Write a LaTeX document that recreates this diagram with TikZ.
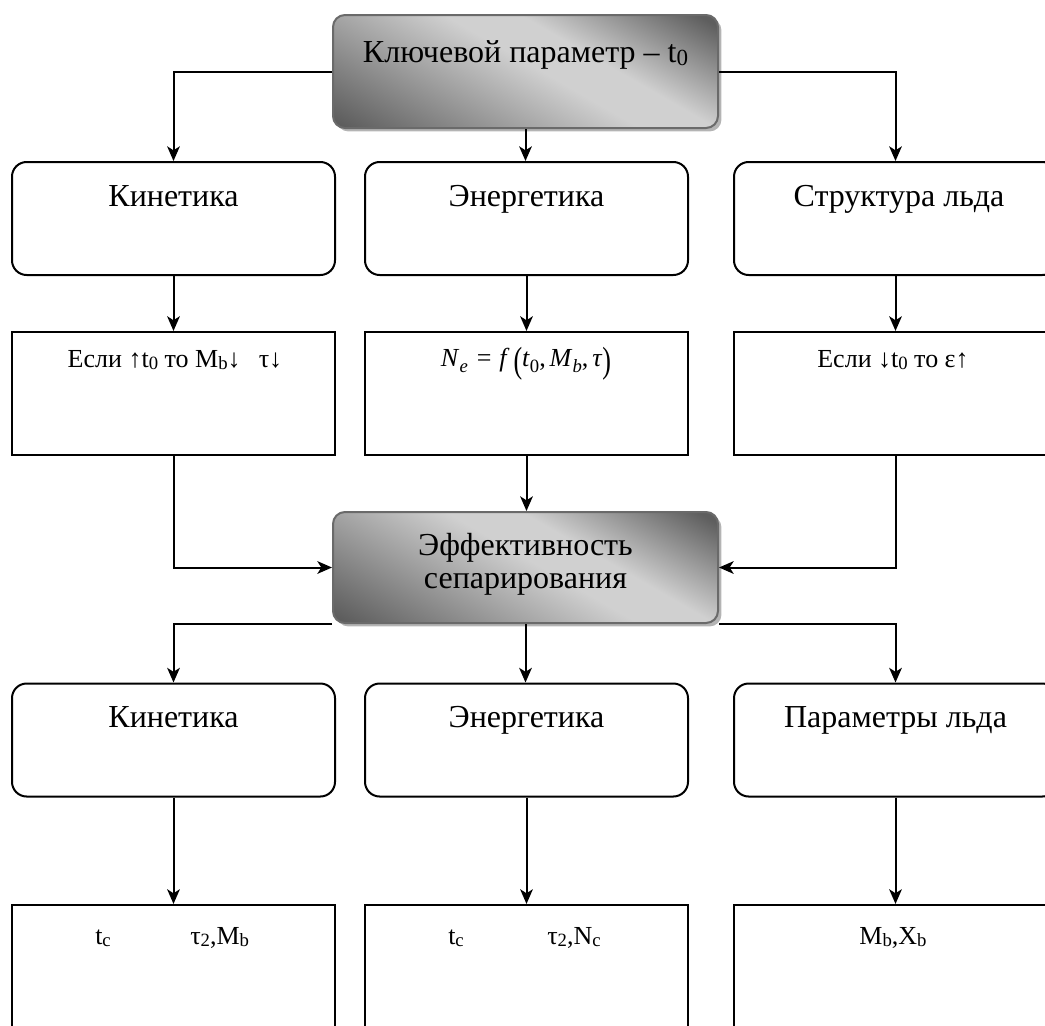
\documentclass[tikz,border=0pt]{standalone}
\usepackage{fontspec}
\setmainfont{Liberation Serif}
\usepackage{graphicx}
\usetikzlibrary{arrows.meta,shadows}
\definecolor{gdark}{HTML}{525252}
\definecolor{gdarkb}{HTML}{5E5E5E}
\definecolor{glight}{HTML}{D0D0D0}
\definecolor{gborder}{HTML}{6A6A6A}
\definecolor{gshadow}{HTML}{B4B4B4}
\pgfdeclareverticalshading{gband}{100bp}{color(0bp)=(gdark); color(14bp)=(gdark); color(52bp)=(glight); color(61bp)=(glight); color(82bp)=(gdarkb); color(100bp)=(gdarkb)}
\newcommand\lowsub[1]{\raisebox{-0.22ex}{\scalebox{0.72}{#1}}}
\newcommand\mathsub[1]{\raisebox{-0.55ex}{\scalebox{0.72}{#1}}}
\newcommand\bigparen[1]{\raisebox{-0.24em}{\scalebox{1}[1.4]{#1}}}
\begin{document}
\begin{tikzpicture}[x=0.75pt,y=-0.75pt,
  graybox/.style={draw=gborder, line width=1.5pt, rounded corners=9pt,
    shading=gband, shading angle=-30,
    minimum width=288.75pt, minimum height=84.75pt, inner sep=0pt,
    drop shadow={shadow xshift=2.6pt, shadow yshift=-2.6pt, fill=gshadow, opacity=1}},
  roundbox/.style={draw=black, line width=1.5pt, rounded corners=11pt, fill=white,
    minimum width=242.25pt, minimum height=84.75pt, inner sep=0pt},
  plainbox/.style={draw=black, line width=1.6pt, fill=white,
    minimum width=242.25pt, inner sep=0pt},
  bigtxt/.style={font=\fontsize{24}{28}\selectfont, inner sep=0pt, anchor=base},
  smalltxt/.style={font=\fontsize{19.5}{22}\selectfont, inner sep=0pt, anchor=base},
  conn/.style={line width=1.5pt, -{Stealth[length=11pt,width=9.5pt,inset=3pt]}},
  line/.style={line width=1.5pt}
]
\useasboundingbox (0,0) rectangle (1045,1025);

% key parameter box
\node[graybox] (g1) at (525.5,71.5) {};
\node[bigtxt] (g1t) at (525.5,62) {Ключевой параметр – t\lowsub{0}};

% row 1
\node[roundbox] (k1) at (173.5,218.5) {};
\node[roundbox] (e1) at (526.5,218.5) {};
\node[roundbox] (s1) at (895.5,218.5) {};
\node[bigtxt] (k1t) at (173.5,206) {Кинетика};
\node[bigtxt] (e1t) at (526.5,206) {Энергетика};
\node[bigtxt] (s1t) at (899,206) {Структура льда};

% row 2
\node[plainbox, minimum height=92.25pt] (k2) at (173.5,393.5) {};
\node[plainbox, minimum height=92.25pt] (e2) at (526.5,393.5) {};
\node[plainbox, minimum height=92.25pt] (s2) at (895.5,393.5) {};
\node[smalltxt] (k2t) at (175,367) {Если ↑t\lowsub{0} то M\lowsub{b}↓\hspace{0.7em}τ↓};
\node[smalltxt] (e2t) at (526,366) {\textit{N}\mathsub{\textit{e}}\hspace{0.35em}=\hspace{0.3em}\textit{f}\hspace{0.15em}\bigparen{(}\textit{t}\mathsub{0},\hspace{0.15em}\textit{M}\mathsub{\textit{b}},\hspace{0.15em}\textit{τ}\bigparen{)}};
\node[smalltxt] (s2t) at (893,367) {Если ↓t\lowsub{0} то ε↑};

% efficiency box
\node[graybox, minimum height=83.25pt] (g2) at (525.5,567.5) {};
\node[bigtxt] (g2a) at (525.5,555) {Эффективность};
\node[bigtxt] (g2b) at (525.5,588) {сепарирования};

% row 3
\node[roundbox] (k3) at (173.5,740) {};
\node[roundbox] (e3) at (526.5,740) {};
\node[roundbox] (p3) at (895.5,740) {};
\node[bigtxt] (k3t) at (173.5,727) {Кинетика};
\node[bigtxt] (e3t) at (526.5,727) {Энергетика};
\node[bigtxt] (p3t) at (895.5,727) {Параметры льда};

% row 4
\node[plainbox, minimum height=120pt] (k4) at (173.5,985) {};
\node[plainbox, minimum height=120pt] (e4) at (526.5,985) {};
\node[plainbox, minimum height=120pt] (p4) at (895.5,985) {};
\node[smalltxt, anchor=base west] (k4a) at (95,944) {t\lowsub{c}};
\node[smalltxt, anchor=base west] (k4b) at (190,944) {τ\lowsub{2},M\lowsub{b}};
\node[smalltxt, anchor=base west] (e4a) at (448,944) {t\lowsub{c}};
\node[smalltxt, anchor=base west] (e4b) at (547,944) {τ\lowsub{2},N\lowsub{c}};
\node[smalltxt] (p4t) at (893,944) {M\lowsub{b},X\lowsub{b}};

% connectors
\draw[conn] (g1.west) -| (k1.north);
\draw[conn] (g1.south) -- (e1.north -| g1.south);
\draw[conn] (g1.east) -| (s1.north);
\draw[conn] (k1.south) -- (k2.north);
\draw[conn] (e1.south) -- (e2.north);
\draw[conn] (s1.south) -- (s2.north);
\draw[conn] (k2.south) |- (g2.west);
\draw[conn] (e2.south) -- (g2.north -| e2.south);
\draw[conn] (s2.south) |- (g2.east);
\draw[conn] (g2.south west) -| (k3.north);
\draw[conn] (g2.south) -- (e3.north -| g2.south);
\draw[conn] (g2.south east) -| (p3.north);
\draw[conn] (k3.south) -- (k4.north);
\draw[conn] (e3.south) -- (e4.north);
\draw[conn] (p3.south) -- (p4.north);
\end{tikzpicture}
\end{document}
